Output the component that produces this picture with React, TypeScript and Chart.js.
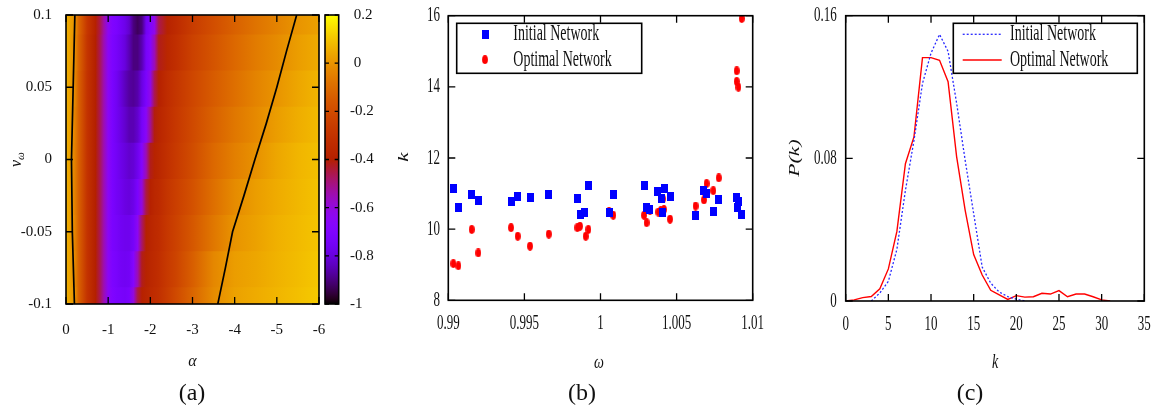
import React, { useEffect, useRef } from 'react';
import { Chart, registerables } from 'chart.js';

Chart.register(...registerables);

const SERIF = '"Liberation Serif", "DejaVu Serif", "Times New Roman", serif';

// ---------------- Panel (a): heat map nu_omega vs alpha ----------------
const alphaGrid = [0, -0.1, -0.2, -0.3, -0.5, -0.7, -0.8, -0.9, -1.0, -1.1, -1.2, -1.3, -1.4, -1.5, -1.6, -1.7, -1.8, -1.9, -2.0, -2.1, -2.2, -2.4, -2.6, -3.0, -3.5, -4.0, -4.5, -5.0, -5.5, -6.0];
const nuRows = [-0.1, -0.075, -0.05, -0.025, 0, 0.025, 0.05, 0.075, 0.1];
const heatNuM100 = [0.06, 0.03, 0.0, -0.13, -0.3, -0.4, -0.46, -0.55, -0.65, -0.7, -0.72, -0.73, -0.74, -0.72, -0.6, -0.45, -0.39, -0.37, -0.35, -0.33, -0.31, -0.26, -0.21, -0.12, -0.02, 0.03, 0.05, 0.07, 0.09, 0.11];
const heatNuM075 = [0.06, 0.03, -0.02, -0.13, -0.3, -0.4, -0.46, -0.55, -0.65, -0.71, -0.73, -0.75, -0.76, -0.75, -0.68, -0.55, -0.42, -0.38, -0.36, -0.34, -0.32, -0.27, -0.23, -0.14, -0.03, 0.02, 0.04, 0.065, 0.085, 0.105];
const heatNuM050 = [0.06, 0.03, -0.03, -0.13, -0.3, -0.4, -0.46, -0.55, -0.65, -0.72, -0.74, -0.76, -0.77, -0.77, -0.74, -0.64, -0.48, -0.39, -0.37, -0.35, -0.33, -0.28, -0.24, -0.16, -0.07, 0.0, 0.03, 0.06, 0.08, 0.1];
const heatNuM025 = [0.06, 0.03, -0.04, -0.13, -0.3, -0.4, -0.46, -0.55, -0.65, -0.72, -0.75, -0.77, -0.79, -0.8, -0.78, -0.72, -0.6, -0.45, -0.39, -0.36, -0.34, -0.29, -0.25, -0.18, -0.09, -0.02, 0.02, 0.05, 0.075, 0.095];
const heatNu000 = [0.06, 0.03, -0.04, -0.13, -0.3, -0.4, -0.46, -0.55, -0.65, -0.72, -0.75, -0.78, -0.8, -0.82, -0.81, -0.77, -0.68, -0.55, -0.42, -0.38, -0.36, -0.31, -0.27, -0.2, -0.11, -0.05, -0.005, 0.04, 0.07, 0.09];
const heatNuP025 = [0.06, 0.03, -0.035, -0.13, -0.3, -0.4, -0.46, -0.55, -0.65, -0.72, -0.76, -0.79, -0.82, -0.85, -0.85, -0.82, -0.74, -0.66, -0.52, -0.41, -0.37, -0.32, -0.28, -0.21, -0.13, -0.07, -0.025, 0.02, 0.055, 0.08];
const heatNuP050 = [0.06, 0.03, -0.02, -0.13, -0.3, -0.4, -0.46, -0.55, -0.65, -0.72, -0.76, -0.8, -0.84, -0.87, -0.88, -0.86, -0.79, -0.72, -0.62, -0.46, -0.39, -0.33, -0.29, -0.22, -0.15, -0.09, -0.04, 0.0, 0.04, 0.07];
const heatNuP075 = [0.06, 0.03, -0.01, -0.12, -0.29, -0.4, -0.46, -0.55, -0.65, -0.71, -0.74, -0.77, -0.8, -0.85, -0.9, -0.9, -0.85, -0.74, -0.68, -0.55, -0.42, -0.36, -0.32, -0.24, -0.17, -0.11, -0.06, -0.02, 0.02, 0.05];
const heatNuP100 = [0.06, 0.03, 0.0, -0.11, -0.28, -0.39, -0.45, -0.54, -0.64, -0.7, -0.72, -0.75, -0.78, -0.82, -0.9, -0.93, -0.9, -0.76, -0.7, -0.62, -0.46, -0.38, -0.34, -0.26, -0.19, -0.13, -0.08, -0.04, 0.0, 0.03];
const contourLeftAlpha = [-0.2, -0.15, -0.13, -0.17, -0.21];
const contourLeftNu = [-0.1, -0.05, 0, 0.05, 0.1];
const contourRightAlpha = [-3.6, -3.78, -3.95, -4.22, -4.48, -4.75, -5.0, -5.23, -5.47];
const contourRightNu = [-0.1, -0.075, -0.05, -0.025, 0, 0.025, 0.05, 0.075, 0.1];
const alphaTicks = [0, -1, -2, -3, -4, -5, -6];
const alphaTickLabels = ['0', '-1', '-2', '-3', '-4', '-5', '-6'];
const nuTicks = [-0.1, -0.05, 0, 0.05, 0.1];
const nuTickLabels = ['-0.1', '-0.05', '0', '0.05', '0.1'];
const cbTicks = [-1, -0.8, -0.6, -0.4, -0.2, 0, 0.2];
const cbTickLabels = ['-1', '-0.8', '-0.6', '-0.4', '-0.2', ' 0', ' 0.2'];

// ---------------- Panel (b): k vs omega ----------------
const omegaInitial = [0.99033, 0.99066, 0.99154, 0.99197, 0.99412, 0.99453, 0.99537, 0.9966, 0.99848, 0.9987, 0.99898, 0.9992, 1.00056, 1.00084, 1.00286, 1.00303, 1.00325, 1.00376, 1.00402, 1.00419, 1.00408, 1.00457, 1.00625, 1.00675, 1.00697, 1.00741, 1.00777, 1.00895, 1.00906, 1.00899, 1.00928];
const kAvgInitial = [11.15, 10.61, 10.96, 10.8, 10.79, 10.91, 10.89, 10.98, 10.86, 10.41, 10.46, 11.22, 10.47, 10.96, 11.22, 10.6, 10.54, 11.07, 10.85, 11.15, 10.47, 10.91, 10.39, 11.1, 11.0, 10.51, 10.84, 10.88, 10.77, 10.61, 10.41];
const omegaOptimal = [0.99033, 0.99066, 0.99154, 0.99197, 0.99412, 0.99456, 0.99537, 0.9966, 0.99848, 0.99865, 0.99903, 0.9992, 1.00056, 1.00084, 1.00286, 1.00303, 1.00325, 1.0038, 1.00396, 1.00408, 1.00417, 1.00457, 1.00625, 1.0068, 1.00697, 1.00741, 1.00777, 1.00895, 1.00895, 1.00906, 1.00928];
const kAvgOptimal = [9.03, 8.97, 9.99, 9.33, 10.04, 9.8, 9.52, 9.86, 10.04, 10.08, 9.8, 9.99, 10.49, 10.39, 10.39, 10.18, 10.52, 10.48, 10.52, 10.85, 10.55, 10.28, 10.65, 10.82, 11.28, 11.08, 11.44, 14.45, 14.15, 13.99, 15.92];
const omegaTicks = [0.99, 0.995, 1, 1.005, 1.01];
const omegaTickLabels = ['0.99', '0.995', '1', '1.005', '1.01'];
const kAvgTicks = [8, 10, 12, 14, 16];
const kAvgTickLabels = ['8', '10', '12', '14', '16'];

// ---------------- Panel (c): degree distribution ----------------
const degreeInitial = [3, 4, 5, 6, 7, 8, 9, 10, 11, 12, 13, 14, 15, 16, 17, 18, 19, 20, 21];
const probInitial = [0, 0.0045, 0.011, 0.029, 0.062, 0.09, 0.122, 0.139, 0.1495, 0.14, 0.111, 0.079, 0.049, 0.019, 0.01, 0.005, 0.0025, 0.001, 0];
const degreeOptimal = [0, 1, 2, 3, 4, 5, 6, 7, 8, 9, 10, 11, 12, 13, 14, 15, 16, 17, 18, 19, 20, 21, 22, 23, 24, 25, 26, 27, 28, 29, 30, 31];
const probOptimal = [0, 0.0006, 0.0019, 0.0025, 0.0068, 0.018, 0.039, 0.077, 0.092, 0.1365, 0.1365, 0.135, 0.123, 0.081, 0.051, 0.026, 0.0146, 0.006, 0.0034, 0.0009, 0.003, 0.0022, 0.0024, 0.0043, 0.0039, 0.0058, 0.0024, 0.0039, 0.0039, 0.0024, 0.0006, 0];
const degreeTicks = [0, 5, 10, 15, 20, 25, 30, 35];
const degreeTickLabels = ['0', '5', '10', '15', '20', '25', '30', '35'];
const probTicks = [0, 0.08, 0.16];
const probTickLabels = ['0', '0.08', '0.16'];

const heatRows = [heatNuM100, heatNuM075, heatNuM050, heatNuM025, heatNu000, heatNuP025, heatNuP050, heatNuP075, heatNuP100];

function palette(v: number): string {
  const t = Math.min(1, Math.max(0, (v + 1) / 1.2));
  const r = Math.sqrt(t);
  const g = t * t * t;
  const b = Math.max(0, Math.sin(2 * Math.PI * t));
  return `rgb(${Math.round(r * 255)},${Math.round(g * 255)},${Math.round(b * 255)})`;
}

type TextOpts = { size: number; italic?: boolean; align?: CanvasTextAlign; sv?: number; rot?: boolean };

function drawText(ctx: CanvasRenderingContext2D, s: string, x: number, y: number, o: TextOpts) {
  ctx.save();
  ctx.translate(x, y);
  const sv = o.sv ?? 1;
  if (o.rot) {
    ctx.rotate(-Math.PI / 2);
    ctx.scale(sv, 1);
  } else {
    ctx.scale(1, sv);
  }
  ctx.font = `${o.italic ? 'italic ' : ''}${o.size}px ${SERIF}`;
  ctx.textAlign = o.align ?? 'center';
  ctx.textBaseline = 'middle';
  ctx.fillStyle = '#111';
  ctx.fillText(s, 0, 0);
  ctx.restore();
}

function drawFrame(chart: any, xTicks: number[], yTicks: number[], len: number) {
  const { ctx, chartArea: a, scales } = chart;
  ctx.save();
  ctx.strokeStyle = '#000';
  ctx.lineWidth = 1.3;
  ctx.beginPath();
  for (const v of xTicks) {
    const px = scales.x.getPixelForValue(v);
    ctx.moveTo(px, a.bottom);
    ctx.lineTo(px, a.bottom - len);
    ctx.moveTo(px, a.top);
    ctx.lineTo(px, a.top + len);
  }
  for (const v of yTicks) {
    const py = scales.y.getPixelForValue(v);
    ctx.moveTo(a.left, py);
    ctx.lineTo(a.left + len, py);
    ctx.moveTo(a.right, py);
    ctx.lineTo(a.right - len, py);
  }
  ctx.stroke();
  ctx.lineWidth = 1.6;
  ctx.strokeRect(a.left, a.top, a.right - a.left, a.bottom - a.top);
  ctx.restore();
}

function makeRectImg() {
  const c = document.createElement('canvas');
  c.width = 7;
  c.height = 9;
  const g = c.getContext('2d')!;
  g.fillStyle = '#0000ff';
  g.fillRect(0, 0, 7, 9);
  return c;
}

function makeEllipseImg() {
  const c = document.createElement('canvas');
  c.width = 6;
  c.height = 9;
  const g = c.getContext('2d')!;
  g.fillStyle = '#ff0000';
  g.beginPath();
  g.ellipse(3, 4.5, 2.9, 4.4, 0, 0, 2 * Math.PI);
  g.fill();
  return c;
}

const baseOptions = {
  responsive: false,
  maintainAspectRatio: false,
  animation: false as const,
  devicePixelRatio: 1,
  events: [] as any[],
  plugins: { legend: { display: false }, tooltip: { enabled: false } },
};

function configA(): any {
  const heatDataset = {
    type: 'bar',
    indexAxis: 'y',
    order: 1,
    data: nuRows.map((nu) => ({ y: nu, x: [alphaGrid[0], alphaGrid[alphaGrid.length - 1]] })),
    backgroundColor: (c: any) => {
      const chart = c.chart;
      const xs = chart.scales && chart.scales.x;
      if (!xs || c.dataIndex === undefined) return palette(-0.2);
      const x0 = xs.getPixelForValue(alphaGrid[0]);
      const x1 = xs.getPixelForValue(alphaGrid[alphaGrid.length - 1]);
      if (!isFinite(x0) || !isFinite(x1) || x1 === x0) return palette(-0.2);
      const g = chart.ctx.createLinearGradient(x0, 0, x1, 0);
      const row = heatRows[c.dataIndex];
      alphaGrid.forEach((a, i) => {
        const p = (xs.getPixelForValue(a) - x0) / (x1 - x0);
        g.addColorStop(Math.min(1, Math.max(0, p)), palette(row[i]));
      });
      return g;
    },
    borderWidth: 0,
    barThickness: 'flex',
    barPercentage: 1.06,
    categoryPercentage: 1,
    clip: 0,
  };
  const contour = (al: number[], nu: number[]) => ({
    type: 'line',
    order: 0,
    data: al.map((a, i) => ({ x: a, y: nu[i] })),
    borderColor: '#000',
    borderWidth: 1.7,
    pointRadius: 0,
    fill: false,
    tension: 0,
    clip: 0,
  });
  return {
    type: 'bar',
    data: { datasets: [heatDataset, contour(contourLeftAlpha, contourLeftNu), contour(contourRightAlpha, contourRightNu)] },
    options: {
      ...baseOptions,
      layout: { padding: { left: 66, top: 15, right: 390 - 319, bottom: 412 - 304 } },
      scales: {
        x: { type: 'linear', min: -6, max: 0, reverse: true, display: false, offset: false },
        y: { type: 'linear', min: -0.1, max: 0.1, display: false, offset: false, ticks: { stepSize: 0.025 } },
      },
    },
    plugins: [
      {
        id: 'panelA',
        afterDraw(chart: any) {
          const ctx = chart.ctx;
          drawFrame(chart, alphaTicks, nuTicks, 7);
          alphaTicks.forEach((v, i) => drawText(ctx, alphaTickLabels[i], chart.scales.x.getPixelForValue(v), 330, { size: 15 }));
          nuTicks.forEach((v, i) => drawText(ctx, nuTickLabels[i], 52, chart.scales.y.getPixelForValue(v), { size: 15, align: 'right' }));
          drawText(ctx, 'α', 192.5, 362, { size: 16, italic: true });
          drawText(ctx, '(a)', 192, 394, { size: 24 });
          // nu_omega rotated
          ctx.save();
          ctx.translate(16, 167);
          ctx.rotate(-Math.PI / 2);
          ctx.fillStyle = '#111';
          ctx.textBaseline = 'alphabetic';
          ctx.textAlign = 'left';
          ctx.font = `italic 16px ${SERIF}`;
          ctx.fillText('ν', 0, 5);
          const w = ctx.measureText('ν').width;
          ctx.font = `italic 11px ${SERIF}`;
          ctx.fillText('ω', w, 8);
          ctx.restore();
        },
      },
    ],
  };
}

function configColorbar(): any {
  return {
    type: 'bar',
    data: {
      datasets: [
        {
          data: [{ x: 0, y: [cbTicks[0], cbTicks[cbTicks.length - 1]] }],
          backgroundColor: (c: any) => {
            const chart = c.chart;
            const ys = chart.scales && chart.scales.y;
            if (!ys) return palette(0);
            const y0 = ys.getPixelForValue(cbTicks[0]);
            const y1 = ys.getPixelForValue(cbTicks[cbTicks.length - 1]);
            if (!isFinite(y0) || !isFinite(y1) || y0 === y1) return palette(0);
            const g = chart.ctx.createLinearGradient(0, y0, 0, y1);
            const n = 60;
            for (let i = 0; i <= n; i++) {
              const v = cbTicks[0] + ((cbTicks[cbTicks.length - 1] - cbTicks[0]) * i) / n;
              g.addColorStop(i / n, palette(v));
            }
            return g;
          },
          borderWidth: 0,
          barPercentage: 1,
          categoryPercentage: 1,
        },
      ],
    },
    options: {
      ...baseOptions,
      layout: { padding: { left: 5, top: 15, right: 70 - 18.7, bottom: 412 - 304 } },
      scales: {
        x: { type: 'linear', min: -0.5, max: 0.5, display: false, offset: false },
        y: { type: 'linear', min: -1, max: 0.2, display: false, offset: false },
      },
    },
    plugins: [
      {
        id: 'cbFrame',
        afterDraw(chart: any) {
          const { ctx, chartArea: a, scales } = chart;
          ctx.save();
          ctx.strokeStyle = '#000';
          ctx.lineWidth = 1.3;
          ctx.beginPath();
          cbTicks.forEach((v) => {
            const py = scales.y.getPixelForValue(v);
            ctx.moveTo(a.left, py);
            ctx.lineTo(a.left + 4, py);
            ctx.moveTo(a.right, py);
            ctx.lineTo(a.right - 4, py);
          });
          ctx.stroke();
          ctx.lineWidth = 1.6;
          ctx.strokeRect(a.left, a.top, a.right - a.left, a.bottom - a.top);
          ctx.restore();
          cbTicks.forEach((v, i) => drawText(ctx, cbTickLabels[i], 30, scales.y.getPixelForValue(v), { size: 15, align: 'left' }));
        },
      },
    ],
  };
}

function configB(): any {
  const rectImg = makeRectImg();
  const ellImg = makeEllipseImg();
  return {
    type: 'scatter',
    data: {
      datasets: [
        {
          label: 'Initial Network',
          data: omegaInitial.map((w, i) => ({ x: w, y: kAvgInitial[i] })),
          pointStyle: rectImg,
          pointRadius: 4,
          backgroundColor: '#0000ff',
          borderColor: '#0000ff',
        },
        {
          label: 'Optimal Network',
          data: omegaOptimal.map((w, i) => ({ x: w, y: kAvgOptimal[i] })),
          pointStyle: ellImg,
          pointRadius: 4,
          backgroundColor: '#ff0000',
          borderColor: '#ff0000',
        },
      ],
    },
    options: {
      ...baseOptions,
      layout: { padding: { left: 58.3, top: 15.7, right: 390 - 362.7, bottom: 412 - 300.3 } },
      scales: {
        x: { type: 'linear', min: 0.99, max: 1.01, display: false },
        y: { type: 'linear', min: 8, max: 16, display: false },
      },
    },
    plugins: [
      {
        id: 'panelB',
        afterDraw(chart: any) {
          const ctx = chart.ctx;
          drawFrame(chart, omegaTicks, kAvgTicks, 7);
          omegaTicks.forEach((v, i) => drawText(ctx, omegaTickLabels[i], chart.scales.x.getPixelForValue(v), 323.5, { size: 13, sv: 1.65 }));
          kAvgTicks.forEach((v, i) => drawText(ctx, kAvgTickLabels[i], 50, chart.scales.y.getPixelForValue(v), { size: 13, sv: 1.65, align: 'right' }));
          drawText(ctx, 'ω', 209, 363, { size: 14, italic: true, sv: 1.3 });
          drawText(ctx, 'k', 14, 157, { size: 14, italic: true, sv: 1.5, rot: true });
          drawText(ctx, '(b)', 192, 394, { size: 24 });
          // legend
          ctx.save();
          ctx.strokeStyle = '#000';
          ctx.lineWidth = 1.6;
          ctx.strokeRect(66.7, 23.3, 185, 50);
          ctx.drawImage(rectImg, 95 - 3.5, 34.3 - 4.5);
          ctx.drawImage(ellImg, 95 - 3, 59.7 - 4.5);
          ctx.restore();
          const ds = chart.data.datasets;
          drawText(ctx, ds[0].label, 123.3, 34.3, { size: 14, sv: 1.6, align: 'left' });
          drawText(ctx, ds[1].label, 123.3, 59.7, { size: 14, sv: 1.6, align: 'left' });
        },
      },
    ],
  };
}

function configC(): any {
  return {
    type: 'line',
    data: {
      datasets: [
        {
          label: 'Initial Network',
          data: degreeInitial.map((k, i) => ({ x: k, y: probInitial[i] })),
          borderColor: 'rgb(40,40,255)',
          borderWidth: 1.3,
          borderDash: [2, 2],
          pointRadius: 0,
          fill: false,
          tension: 0,
        },
        {
          label: 'Optimal Network',
          data: degreeOptimal.map((k, i) => ({ x: k, y: probOptimal[i] })),
          borderColor: '#ff0000',
          borderWidth: 1.4,
          pointRadius: 0,
          fill: false,
          tension: 0,
        },
      ],
    },
    options: {
      ...baseOptions,
      layout: { padding: { left: 65.7, top: 15.7, right: 379 - 364.3, bottom: 412 - 301 } },
      scales: {
        x: { type: 'linear', min: 0, max: 35, display: false },
        y: { type: 'linear', min: 0, max: 0.16, display: false },
      },
    },
    plugins: [
      {
        id: 'panelC',
        afterDraw(chart: any) {
          const ctx = chart.ctx;
          drawFrame(chart, degreeTicks, probTicks, 7);
          degreeTicks.forEach((v, i) => drawText(ctx, degreeTickLabels[i], chart.scales.x.getPixelForValue(v), 324.5, { size: 13, sv: 1.65 }));
          probTicks.forEach((v, i) => drawText(ctx, probTickLabels[i], 56.7, chart.scales.y.getPixelForValue(v), { size: 13, sv: 1.65, align: 'right' }));
          drawText(ctx, 'k', 215, 362, { size: 14, italic: true, sv: 1.5 });
          drawText(ctx, 'P(k)', 15, 158, { size: 14, italic: true, sv: 1.55, rot: true });
          drawText(ctx, '(c)', 190, 394, { size: 24 });
          // legend
          const ds = chart.data.datasets;
          ctx.save();
          ctx.strokeStyle = '#000';
          ctx.lineWidth = 1.6;
          ctx.strokeRect(173.3, 23.3, 184, 50);
          ctx.lineWidth = ds[0].borderWidth;
          ctx.strokeStyle = ds[0].borderColor;
          ctx.setLineDash(ds[0].borderDash);
          ctx.beginPath();
          ctx.moveTo(182.7, 34.3);
          ctx.lineTo(221.7, 34.3);
          ctx.stroke();
          ctx.setLineDash([]);
          ctx.lineWidth = ds[1].borderWidth;
          ctx.strokeStyle = ds[1].borderColor;
          ctx.beginPath();
          ctx.moveTo(182.7, 60);
          ctx.lineTo(221.7, 60);
          ctx.stroke();
          ctx.restore();
          drawText(ctx, ds[0].label, 230, 34.3, { size: 14, sv: 1.6, align: 'left' });
          drawText(ctx, ds[1].label, 230, 60, { size: 14, sv: 1.6, align: 'left' });
        },
      },
    ],
  };
}

export default function App() {
  const aRef = useRef<HTMLCanvasElement>(null);
  const cbRef = useRef<HTMLCanvasElement>(null);
  const bRef = useRef<HTMLCanvasElement>(null);
  const cRef = useRef<HTMLCanvasElement>(null);

  useEffect(() => {
    const charts: Chart[] = [];
    if (aRef.current) charts.push(new Chart(aRef.current, configA()));
    if (cbRef.current) charts.push(new Chart(cbRef.current, configColorbar()));
    if (bRef.current) charts.push(new Chart(bRef.current, configB()));
    if (cRef.current) charts.push(new Chart(cRef.current, configC()));
    return () => charts.forEach((c) => c.destroy());
  }, []);

  const cs = (left: number, width: number): React.CSSProperties => ({
    position: 'absolute',
    left,
    top: 0,
    width,
    height: 412,
  });

  return (
    <div style={{ position: 'absolute', left: 0, top: 0, width: 1159, height: 412, background: '#fff', overflow: 'hidden' }}>
      <canvas ref={aRef} width={390} height={412} style={cs(0, 390)} />
      <canvas ref={cbRef} width={70} height={412} style={cs(320, 70)} />
      <canvas ref={bRef} width={390} height={412} style={cs(390, 390)} />
      <canvas ref={cRef} width={379} height={412} style={cs(780, 379)} />
    </div>
  );
}
